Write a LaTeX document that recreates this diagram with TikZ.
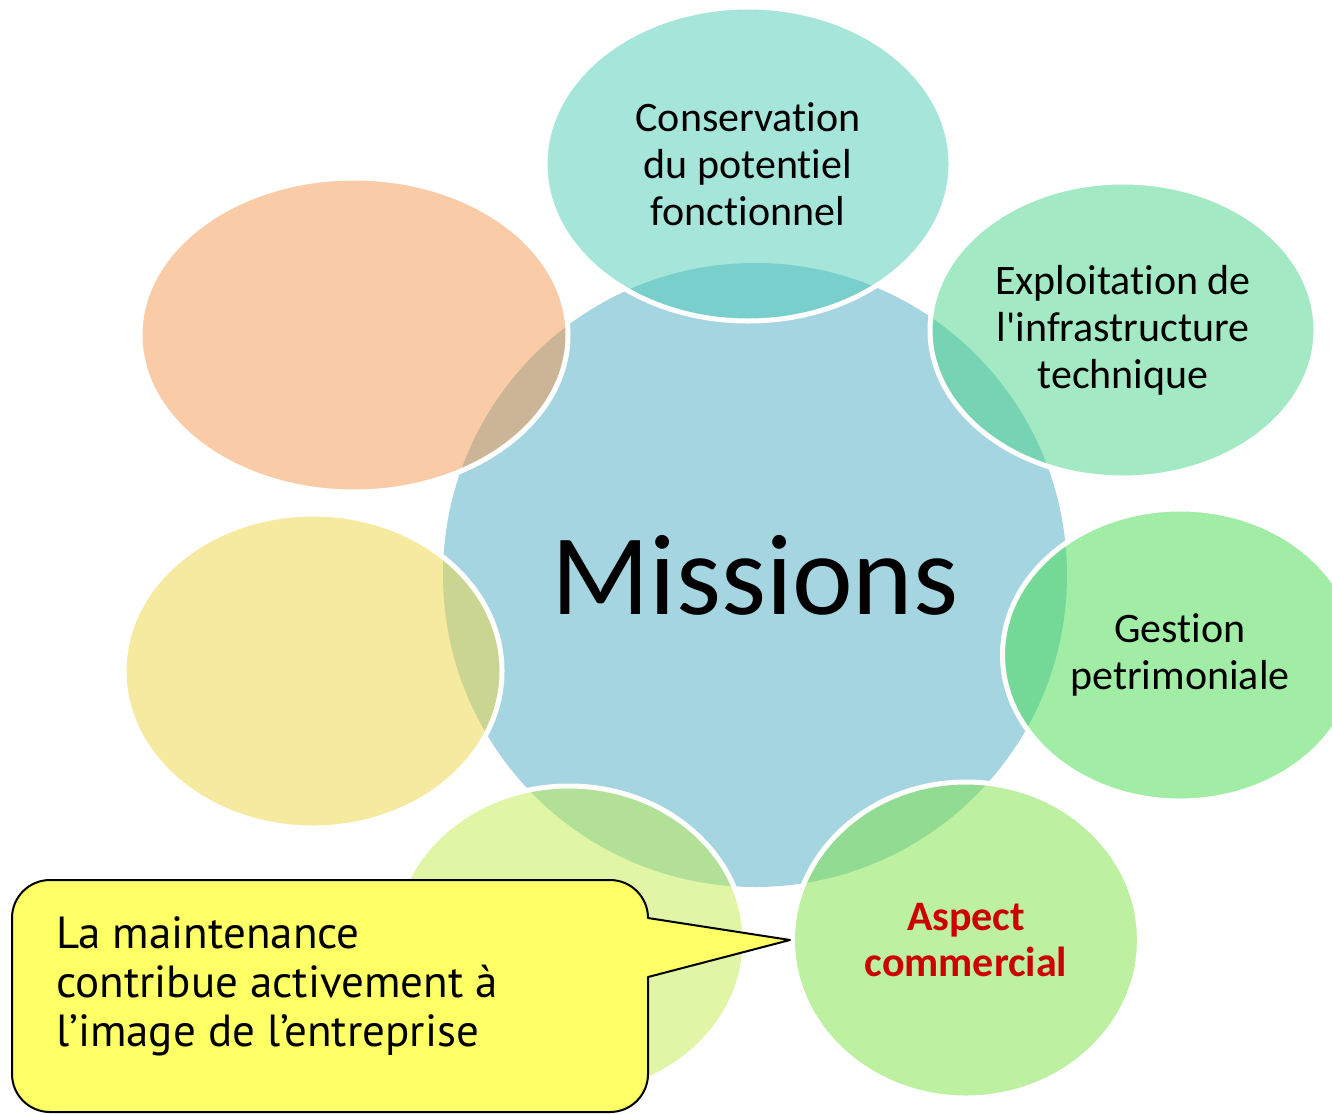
\documentclass[tikz,border=0pt]{standalone}
\usepackage{fontspec}
\setmainfont{Carlito}[Ligatures=NoCommon]
\newfontfamily\bubblefont{PT Sans}
\usepackage{tikz}
\usetikzlibrary{shapes.geometric}

\definecolor{missblue}{RGB}{166,213,226}
\definecolor{satteal}{RGB}{75,203,181}
\definecolor{satjade}{RGB}{71,211,135}
\definecolor{satgreen}{RGB}{67,219,77}
\definecolor{satlime}{RGB}{125,225,69}
\definecolor{satpale}{RGB}{193,235,77}
\definecolor{satsand}{RGB}{237,213,65}
\definecolor{satpeach}{RGB}{243,151,77}
\definecolor{bubbleyellow}{RGB}{255,255,102}
\definecolor{commred}{RGB}{204,0,0}

\begin{document}
\begin{tikzpicture}[x=1pt, y=-1pt,
    sat/.style={ellipse, draw=white, line width=5pt, fill opacity=0.5,
      draw opacity=1, text opacity=1, inner sep=0pt, align=center,
      font=\fontsize{42}{47}\selectfont},
    bubble/.style={draw=black, line width=2pt, fill=bubbleyellow, line join=round}
  ]
    \useasboundingbox (0,0) rectangle (1332,1114);

    % centre
    \node[circle, fill=missblue, minimum size=624pt, inner sep=0pt,
      font=\fontsize{115}{120}\selectfont] (mis) at (755,575) {Missions};

    % satellites
    \node[sat, fill=satteal, minimum width=406pt, minimum height=314pt] (cons) at (748,164)
      {Conservation\\du potentiel\\fonctionnel};
    \node[sat, fill=satjade, minimum width=386pt, minimum height=296pt] (expl) at (1123,330)
      {Exploitation de\\l\textquotesingle infrastructure\\technique};
    \node[sat, fill=satgreen, minimum width=355pt, minimum height=292pt] (gest) at (1180,655)
      {Gestion\\petrimoniale};
    \node[sat, fill=satlime, minimum width=347pt, minimum height=316pt,
      text=commred, font=\bfseries\fontsize{42}{46}\selectfont] (comm) at (966,940)
      {Aspect\\commercial};
    \node[sat, fill=satpale, minimum width=352pt, minimum height=310pt] (img) at (569,941) {};
    \node[sat, fill=satsand, minimum width=378pt, minimum height=314pt] (left) at (313,671) {};
    \node[sat, fill=satpeach, minimum width=428pt, minimum height=314pt] (ul) at (354,335) {};

    % callout
    \draw[bubble] (50,880) -- (610,880) arc[start angle=-90, end angle=0, radius=38]
      -- (comm.west) -- (648,977) -- (648,1074) arc[start angle=0, end angle=90, radius=38]
      -- (50,1112) arc[start angle=90, end angle=180, radius=38]
      -- (12,918) arc[start angle=180, end angle=270, radius=38] -- cycle;
    \node[anchor=north west, align=left, inner sep=0pt,
      font=\bubblefont\fontsize{45}{49}\selectfont] (msg) at (56,916)
      {La maintenance\\contribue activement à\\l’image de l’entreprise};
\end{tikzpicture}
\end{document}
